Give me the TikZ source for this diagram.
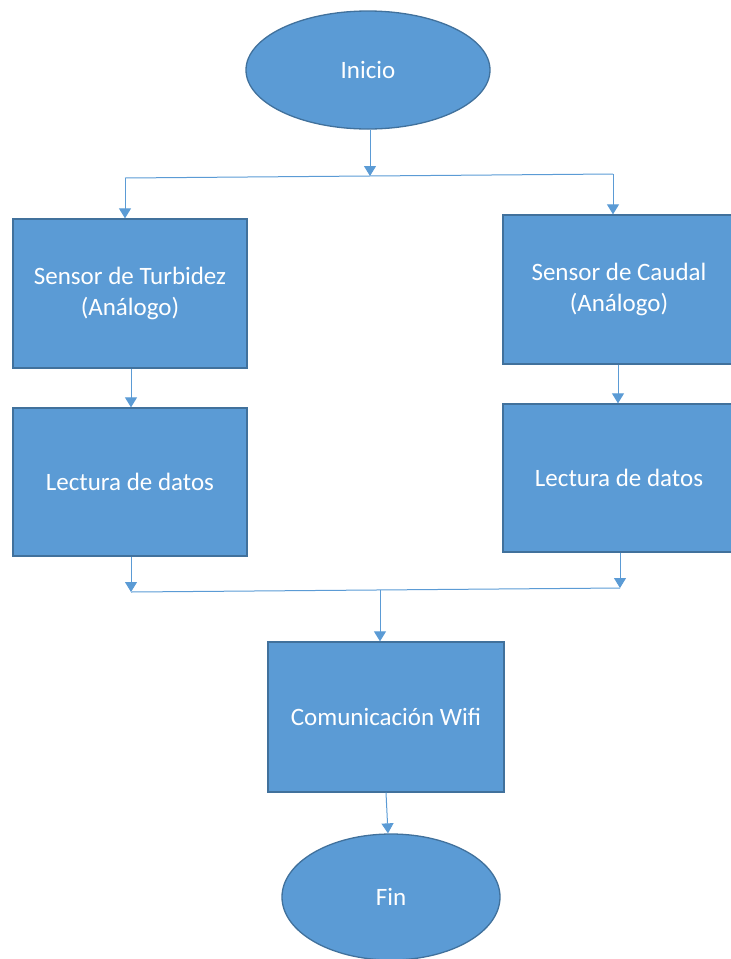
\documentclass[tikz,border=0pt]{standalone}
\usepackage{fontspec}
\setmainfont{Carlito}
\usetikzlibrary{arrows.meta,shapes.geometric,calc}
\definecolor{boxfill}{HTML}{5B9BD5}
\definecolor{boxline}{HTML}{41719C}
\definecolor{conncol}{HTML}{5B9BD5}
\tikzset{
  box/.style={draw=boxline, line width=1.3pt, fill=boxfill, text=white,
    rectangle, inner sep=0pt, align=center,
    font=\fontsize{25}{31}\selectfont},
  oval/.style={draw=boxline, line width=1.3pt, fill=boxfill, text=white,
    ellipse, inner sep=0pt, align=center,
    font=\fontsize{25}{31}\selectfont},
  conn/.style={draw=conncol, line width=1pt},
  arr/.style={conn, -{Triangle[width=12pt,length=10pt]}}
}
\begin{document}
\begin{tikzpicture}[x=1pt,y=-1pt]
\useasboundingbox (0,0) rectangle (731,959);
% shapes
\node[oval, minimum width=244pt, minimum height=118pt] (inicio) at (368,70) {Inicio};
\node[box, minimum width=234pt, minimum height=149pt] (tb) at (130,293.5) {Sensor de Turbidez\\(Análogo)};
\node[box, minimum width=232pt, minimum height=149pt] (cb) at (619,289.5) {Sensor de Caudal\\(Análogo)};
\node[box, minimum width=234pt, minimum height=148pt] (lb) at (130,482) {Lectura de datos};
\node[box, minimum width=232pt, minimum height=148pt] (rb) at (619,478) {Lectura de datos};
\node[box, minimum width=236pt, minimum height=150pt] (wifi) at (386,717) {Comunicación Wifi};
\node[oval, minimum width=218pt, minimum height=126pt] (fin) at (391,897) {Fin};
% junction points
\coordinate (j1) at (370,176);
\coordinate (L1) at (125,178);
\coordinate (R1) at (613,174);
\coordinate (a1) at (131,0);
\coordinate (a2) at (618,0);
\coordinate (L2) at (131,592);
\coordinate (R2) at (620,588);
\coordinate (M) at (380,590);
\coordinate (w1) at (386,0);
\coordinate (f1) at (388,0);
% connectors
\draw[arr] (inicio.south -| j1) -- (j1);
\draw[conn] (L1) -- (R1);
\draw[arr] (L1) -- (L1 |- tb.north);
\draw[arr] (R1) -- (R1 |- cb.north);
\draw[arr] (tb.south -| a1) -- (lb.north -| a1);
\draw[arr] (cb.south -| a2) -- (rb.north -| a2);
\draw[arr] (lb.south -| L2) -- (L2);
\draw[arr] (rb.south -| R2) -- (R2);
\draw[conn] (L2) -- (R2);
\draw[arr] (M) -- (M |- wifi.north);
\draw[arr] (wifi.south -| w1) -- (fin.north -| f1);
\end{tikzpicture}
\end{document}
